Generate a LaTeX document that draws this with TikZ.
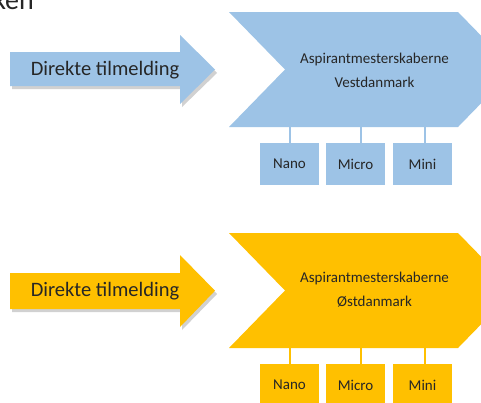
\documentclass[tikz,border=0pt]{standalone}
\usepackage{fontspec}
\setmainfont{Carlito}
\definecolor{lblue}{HTML}{9DC3E6}
\definecolor{lyel}{HTML}{FFC000}
\definecolor{txt}{HTML}{262626}
\begin{document}
\begin{tikzpicture}[x=1pt,y=-1pt,
  arrowtxt/.style={text=txt,font=\fontsize{20.5}{24}\selectfont,inner sep=0pt},
  chevtxt/.style={text=txt,font=\fontsize{15}{20}\selectfont,align=center,inner sep=0pt},
  subbox/.style={minimum width=59pt,minimum height=42pt,inner sep=0pt,text=txt,font=\fontsize{15}{18}\selectfont},
  conn/.style={line width=2pt},
  shadowc/.style={fill=black,opacity=0.18}]
\useasboundingbox (0,0) rectangle (481,402);
\fill[white] (0,0) rectangle (481,402);
\node[anchor=base east,text=txt,font=\fontsize{28}{30}\selectfont,inner sep=0pt] (ken) at (34,9) {ken};

% ---------- blue group ----------
\fill[shadowc] (12,55) -- (182,55) -- (182,38) -- (217,73) -- (182,107) -- (182,89) -- (12,89) -- cycle;
\fill[lblue] (10,52) -- (180,52) -- (180,35) -- (215,69.5) -- (180,104) -- (180,86) -- (10,86) -- cycle;
\node[arrowtxt] (arrA) at (105,70) {Direkte tilmelding};
\fill[lblue] (229,12) -- (458,12) -- (514,69.5) -- (458,127) -- (229,127) -- (285,69.5) -- cycle;
\coordinate (chevAb) at (374,127);
\node[chevtxt] (chevA) at (374.5,70) {Aspirantmesterskaberne\\[4pt]Vestdanmark};
\node[subbox,fill=lblue] (nanoA) at (289.5,164) {Nano};
\node[subbox,fill=lblue] (microA) at (355.5,164) {Micro};
\node[subbox,fill=lblue] (miniA) at (422.5,164) {Mini};
\draw[conn,lblue] (nanoA.north) -- (nanoA.north |- chevAb);
\draw[conn,lblue] ([xshift=5pt]microA.north) -- ([xshift=5pt]microA.north |- chevAb);
\draw[conn,lblue] ([xshift=2pt]miniA.north) -- ([xshift=2pt]miniA.north |- chevAb);

% ---------- yellow group ----------
\fill[shadowc] (12,276) -- (182,276) -- (182,258) -- (217,294) -- (182,330) -- (182,312) -- (12,312) -- cycle;
\fill[lyel] (10,273) -- (180,273) -- (180,255) -- (215,290.7) -- (180,327) -- (180,309) -- (10,309) -- cycle;
\node[arrowtxt] (arrB) at (105,291) {Direkte tilmelding};
\fill[lyel] (229,233) -- (458,233) -- (514,290.5) -- (458,348) -- (229,348) -- (285,290.5) -- cycle;
\coordinate (chevBb) at (374,348);
\node[chevtxt] (chevB) at (374.5,290) {Aspirantmesterskaberne\\[4pt]Østdanmark};
\node[subbox,fill=lyel] (nanoB) at (289.5,385) {Nano};
\node[subbox,fill=lyel] (microB) at (355.5,385) {Micro};
\node[subbox,fill=lyel] (miniB) at (422.5,385) {Mini};
\draw[conn,lyel] (nanoB.north) -- (nanoB.north |- chevBb);
\draw[conn,lyel] ([xshift=5pt]microB.north) -- ([xshift=5pt]microB.north |- chevBb);
\draw[conn,lyel] ([xshift=2pt]miniB.north) -- ([xshift=2pt]miniB.north |- chevBb);
\end{tikzpicture}
\end{document}
